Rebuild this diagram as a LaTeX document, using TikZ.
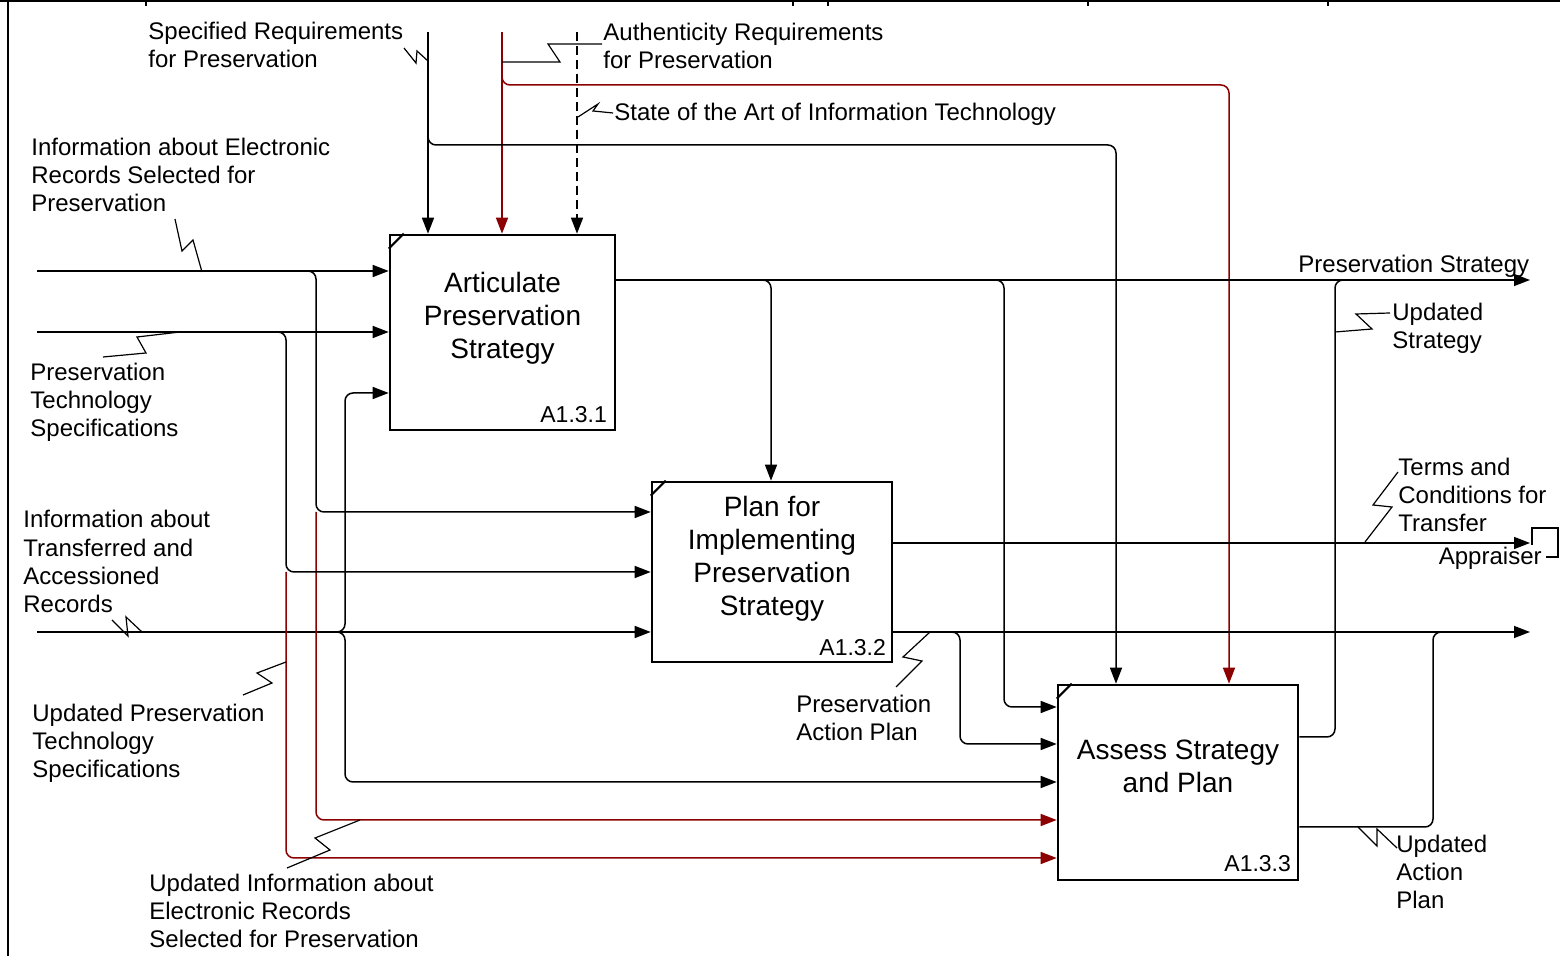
\documentclass[tikz,border=0pt]{standalone}
\usepackage{fontspec}
\setmainfont{Liberation Sans}
\usetikzlibrary{arrows.meta,calc}
\definecolor{idefred}{RGB}{139,0,0}
\newcommand\lblfont{\fontsize{12}{14.2}\selectfont}
\newcommand\funcfont{\fontsize{14}{16.5}\selectfont}
\newcommand\numfont{\fontsize{11.5}{14}\selectfont}

\begin{document}
\begin{tikzpicture}[x=0.5pt,y=-0.5pt,
  conn/.style={line width=0.75pt,-{Triangle[length=8pt,width=6pt]}},
  fb/.style={conn,draw=idefred},
  plain/.style={line width=0.75pt},
  squig/.style={line width=0.6pt},
  % multi-line labels are placed by the baseline of their last line
  lbl/.style={font=\lblfont,align=left,inner sep=0pt,anchor=base west},
  func/.style={draw,line width=1.3pt,inner sep=0pt},
  functext/.style={font=\funcfont,align=center,inner sep=0pt,anchor=base},
  fnum/.style={font=\numfont,inner sep=0pt,anchor=base east},
  rc/.style={rounded corners=4pt},
]
\useasboundingbox (0,0) rectangle (1560,956);

% sheet frame
\draw[line width=1pt] (0,1) -- (1560,1);
\draw[line width=1pt] (8,0) -- (8,956);
\foreach \x in {146,793,828,1088,1328} \draw[line width=0.8pt] (\x,0) -- (\x,6);

% activity boxes
\node[func, minimum width=112.5pt, minimum height=97.5pt] (b1) at (502.5,332.5) {};
\node[func, minimum width=120pt, minimum height=90pt] (b2) at (772,572) {};
\node[func, minimum width=120pt, minimum height=97.5pt] (b3) at (1178,782.5) {};
\foreach \b in {b1,b2,b3}
  \draw[line width=1pt] ($(\b.north west)+(0,15)$) -- ($(\b.north west)+(15,0)$);

\node[functext] (b1t) at ($(b1.north)+(0,125)$) {Articulate\\Preservation\\Strategy};
\node[functext] (b2t) at ($(b2.north)+(0,135)$) {Plan for\\Implementing\\Preservation\\Strategy};
\node[functext] (b3t) at ($(b3.north)+(0,109)$) {Assess Strategy\\and Plan};
\node[fnum] (b1n) at ($(b1.south east)+(-9,-9)$) {A1.3.1};
\node[fnum] (b2n) at ($(b2.south east)+(-7,-8)$) {A1.3.2};
\node[fnum] (b3n) at ($(b3.south east)+(-8,-10)$) {A1.3.3};

% free ends, junctions and bends
\coordinate (srq) at (428,32);
\coordinate (arq) at (502,32);
\coordinate (soa) at (577,32);
\coordinate (j1) at (428,145);  \coordinate (k1) at (1116,145);
\coordinate (j2) at (502,85);   \coordinate (k2) at (1229,85);
\coordinate (ier) at (37,271);
\coordinate (pts) at (37,332);
\coordinate (itr) at (37,632);
\coordinate (j3) at (316,271);  \coordinate (k3) at (316,512);  \coordinate (k4) at (316,820);
\coordinate (j4) at (286,332);  \coordinate (k5) at (286,572);  \coordinate (k6) at (286,858);
\coordinate (j5) at (345,632);  \coordinate (k7) at (345,393);  \coordinate (k8) at (345,782);
\coordinate (pso) at (1530,280);
\coordinate (tct) at (1530,543);
\coordinate (pao) at (1530,632);
\coordinate (j6) at (771,280);
\coordinate (j7) at (1004,280); \coordinate (k9) at (1004,707);
\coordinate (j8) at (960,632);  \coordinate (k10) at (960,744);
\coordinate (j9) at (1335,280); \coordinate (k11) at (1335,737);
\coordinate (j10) at (1433,632); \coordinate (k12) at (1433,827);
\coordinate (aprl) at (1546,557);

% controls
\draw[conn] (srq) -- (srq |- b1.north);
\draw[fb] (arq) -- (arq |- b1.north);
\draw[conn,dash pattern=on 4.5pt off 2.5pt] (soa) -- (soa |- b1.north);
\draw[conn,rc] ($(j1)+(0,-12)$) -- (j1) -- (k1) -- (k1 |- b3.north);
\draw[fb,rc] ($(j2)+(0,-12)$) -- (j2) -- (k2) -- (k2 |- b3.north);

% inputs
\draw[conn] (ier) -- (ier -| b1.west);
\draw[conn] (pts) -- (pts -| b1.west);
\draw[conn] (itr) -- (itr -| b2.west);
\draw[conn,rc] ($(j3)+(-11,0)$) -- (j3) -- (k3) -- (k3 -| b2.west);
\draw[fb,rc] (k3) -- (k4) -- (k4 -| b3.west);
\draw[conn,rc] ($(j4)+(-11,0)$) -- (j4) -- (k5) -- (k5 -| b2.west);
\draw[fb,rc] (k5) -- (k6) -- (k6 -| b3.west);
\draw[conn,rc] ($(j5)+(-9,0)$) -- (j5) -- (k7) -- (k7 -| b1.west);
\draw[conn,rc] ($(j5)+(-9,0)$) -- (j5) -- (k8) -- (k8 -| b3.west);

% outputs
\draw[conn] (b1.east |- pso) -- (pso);
\draw[conn,rc] ($(j6)+(-11,0)$) -- (j6) -- (j6 |- b2.north);
\draw[conn,rc] ($(j7)+(-11,0)$) -- (j7) -- (k9) -- (k9 -| b3.west);
\draw[conn] (b2.east |- tct) -- (tct);
\draw[conn] (b2.east |- pao) -- (pao);
\draw[conn,rc] ($(j8)+(-11,0)$) -- (j8) -- (k10) -- (k10 -| b3.west);

% feedback from A1.3.3
\draw[plain,rc] (k11 -| b3.east) -- (k11) -- (j9) -- ($(j9)+(11,0)$);
\draw[plain,rc] (k12 -| b3.east) -- (k12) -- (j10) -- ($(j10)+(11,0)$);

% off-page reference
\node[font=\lblfont,inner sep=0pt,anchor=base east] (apr) at (1542,565) {Appraiser};
\draw[plain] ($(tct)+(2,2)$) -- (1532,528) -- (1558,528) -- (1558,557) -- (aprl);

% labels
\node[lbl] (l1) at (148,68) {Specified Requirements\\for Preservation};
\node[lbl] (l2) at (603,69) {Authenticity Requirements\\for Preservation};
\node[lbl] (l3) at (614,121) {State of the Art of Information Technology};
\node[lbl] (l4) at (31,212) {Information about Electronic\\Records Selected for\\Preservation};
\node[lbl] (l5) at (30,437) {Preservation\\Technology\\Specifications};
\node[lbl] (l6) at (23,613) {Information about\\Transferred and\\Accessioned\\Records};
\node[lbl] (l7) at (32,778) {Updated Preservation\\Technology\\Specifications};
\node[lbl] (l8) at (149,948) {Updated Information about\\Electronic Records\\Selected for Preservation};
\node[lbl] (l9) at (1298,273) {Preservation Strategy};
\node[lbl] (l10) at (1392,349) {Updated\\Strategy};
\node[lbl] (l11) at (1398,532) {Terms and\\Conditions for\\Transfer};
\node[lbl] (l12) at (796,741) {Preservation\\Action Plan};
\node[lbl] (l13) at (1396,909) {Updated\\Action\\Plan};

% label leaders
\draw[squig] (404,48) -- (416,63) -- (417,51) -- (428,61);
\draw[squig] (502,62) -- (560,62) -- (548,44) -- (602,44);
\draw[squig] (578,117) -- (598,104) -- (593,111) -- (613,113);
\draw[squig] (202,272) -- (193,240) -- (182,251) -- (175,219);
\draw[squig] (180,332) -- (137,337) -- (146,353) -- (103,357);
\draw[squig] (112,620) -- (128,636) -- (126,617) -- (142,632);
\draw[squig] (286,662) -- (257,673) -- (272,683) -- (243,695);
\draw[squig] (360,820) -- (315,838) -- (330,850) -- (287,868);
\draw[squig] (1335,332) -- (1372,329) -- (1356,314) -- (1390,313);
\draw[squig] (1365,542) -- (1392,507) -- (1373,505) -- (1398,472);
\draw[squig] (930,632) -- (903,657) -- (922,661) -- (896,687);
\draw[squig] (1358,827) -- (1377,846) -- (1377,829) -- (1397,848);
\end{tikzpicture}
\end{document}
